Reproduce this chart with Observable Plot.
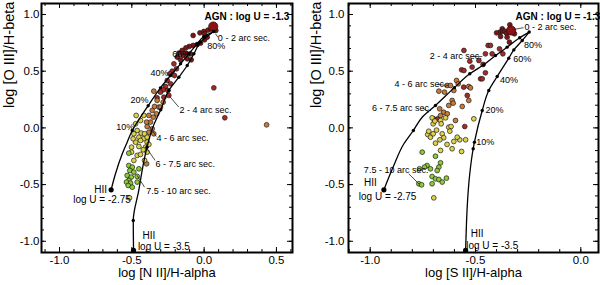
<!DOCTYPE html>
<html><head><meta charset="utf-8">
<script src="https://cdn.jsdelivr.net/npm/d3@7"></script>
<script src="https://cdn.jsdelivr.net/npm/@observablehq/plot@0.6"></script>
<style>
body{margin:0;background:#fff;}
#wrap{display:flex;width:600px;height:285px;overflow:hidden;}
</style></head><body><div id="wrap"></div>
<script>
// ---------- shared ----------
const groupColors = ["#7e1616", "#a42a26", "#c97a38", "#ddd24a", "#8ccc32"];
const coreColor = "#8a1414";
const yTicksMajor = [-1.0, -0.5, 0.0, 0.5, 1.0];
const yTicksMinor = [-1.0,-0.9,-0.8,-0.7,-0.6,-0.5,-0.4,-0.3,-0.2,-0.1,0.0,0.1,0.2,0.3,0.4,0.5,0.6,0.7,0.8,0.9,1.0];
const yTitle = "log [O III]/H-beta";

// ---------- left panel: [N II]/H-alpha ----------
const leftXTicksMajor = [-1.0, -0.5, 0.0, 0.5];
const leftXTicksMinor = [-1.1,-1.0,-0.9,-0.8,-0.7,-0.6,-0.5,-0.4,-0.3,-0.2,-0.1,0.0,0.1,0.2,0.3,0.4,0.5,0.6];
const leftCore = [[0.063, 0.894]];
const left0to2 = [[-0.076,0.815],[-0.029,0.838],[-0.002,0.850],[0.026,0.862],[0.049,0.871],[0.081,0.859],[0.003,0.830],[-0.048,0.735],[-0.076,0.727],[-0.103,0.718],[-0.126,0.706],[-0.025,0.747],[0.003,0.777],[0.021,0.800],[-0.152,0.683],[-0.175,0.659],[-0.145,0.638],[-0.126,0.659],[-0.186,0.624],[-0.163,0.600],[-0.094,0.653],[-0.117,0.609],[-0.089,0.600]];
const left2to4 = [[-0.209,0.565],[-0.191,0.521],[-0.221,0.500],[-0.237,0.477],[-0.205,0.462],[-0.255,0.418],[-0.232,0.389],[-0.267,0.365],[-0.283,0.336],[-0.251,0.330],[-0.302,0.315],[-0.278,0.271],[-0.325,0.265],[-0.244,0.286],[0.067,0.353],[0.143,0.089]];
const left4to6 = [[0.432,0.027],[-0.348,0.324],[-0.325,0.242],[-0.343,0.189],[-0.313,0.183],[-0.359,0.154],[-0.329,0.124],[-0.352,0.095],[-0.382,0.110],[-0.371,0.051],[-0.394,0.012],[-0.359,-0.008],[-0.382,-0.038],[-0.348,-0.052],[-0.398,0.051],[-0.302,0.183],[-0.283,0.227],[-0.398,-0.317]];
const left6to75 = [[-0.470,0.110],[-0.474,0.036],[-0.440,0.065],[-0.417,0.110],[-0.463,-0.023],[-0.486,-0.052],[-0.435,-0.046],[-0.451,-0.082],[-0.417,-0.096],[-0.394,-0.126],[-0.440,-0.111],[-0.474,-0.126],[-0.491,-0.096],[-0.405,-0.170],[-0.421,-0.193],[-0.394,-0.214],[-0.451,-0.164],[-0.382,-0.146],[-0.502,-0.170],[-0.463,-0.243],[-0.412,-0.287],[-0.440,-0.234],[-0.502,-0.214],[-0.486,-0.287],[-0.412,-0.052],[-0.394,-0.082],[-0.516,-0.617]];
const left75to10 = [[-0.521,-0.332],[-0.497,-0.346],[-0.514,-0.376],[-0.486,-0.390],[-0.532,-0.420],[-0.504,-0.434],[-0.521,-0.464],[-0.537,-0.478],[-0.509,-0.487],[-0.525,-0.508],[-0.497,-0.523],[-0.463,-0.428],[-0.451,-0.361],[-0.463,-0.478],[-0.521,-0.223]];
const leftMixHigh = [[-0.643,-0.546],[-0.613,-0.405],[-0.566,-0.229],[-0.532,-0.126],[-0.497,-0.023],[-0.440,0.094],[-0.387,0.195],[-0.302,0.353],[-0.232,0.462],[-0.163,0.565],[-0.106,0.653],[-0.048,0.741],[-0.002,0.806],[0.067,0.850]];
const leftMixLow = [[-0.488,-1.081],[-0.490,-0.817],[-0.452,-0.552],[-0.425,-0.350],[-0.395,-0.170],[-0.350,0.020],[-0.300,0.160],[-0.244,0.330],[-0.175,0.447],[-0.117,0.550],[-0.071,0.653],[-0.025,0.756],[0.067,0.850]];
const leftMixDots = [[-0.497,-0.023],[-0.387,0.195],[-0.302,0.353],[-0.232,0.462],[-0.163,0.565],[-0.106,0.653],[-0.048,0.741],[-0.002,0.806],[-0.490,-0.817],[-0.395,-0.170],[-0.300,0.160],[-0.244,0.330],[-0.175,0.447],[-0.117,0.550],[-0.071,0.653],[-0.025,0.756],[0.067,0.850]];
const leftEnds = [[-0.643,-0.546],[-0.488,-1.081]];
const leftLabels = [
  {x:0.095,y:0.790,t:"0 - 2 arc sec."},{x:-0.170,y:0.159,t:"2 - 4 arc sec."},
  {x:-0.329,y:-0.091,t:"4 - 6 arc sec."},{x:-0.336,y:-0.317,t:"6 - 7.5 arc sec."},
  {x:-0.401,y:-0.555,t:"7.5 - 10 arc sec."}];
const leftPct = [
  {x:0.021,y:0.721,t:"80%"},{x:-0.221,y:0.653,t:"60%"},{x:-0.371,y:0.483,t:"40%"},
  {x:-0.509,y:0.248,t:"20%"},{x:-0.608,y:0.004,t:"10%"}];
const leftHII = [{x:-0.716,y:-0.545,t:"HII"},{x:-0.382,y:-0.949,t:"HII"}];
const leftLogU = [{x:-0.905,y:-0.634,t:"log U = -2.75"},{x:-0.458,y:-1.046,t:"log U = -3.5"}];
const leftAGN = [{x:0.003,y:0.982,t:"AGN : log U = -1.3"}];
const leftLeaders = [
  [0.079,0.829,0.095,0.800],[-0.244,0.286,-0.175,0.183],[-0.382,0.021,-0.331,-0.076],
  [-0.394,-0.185,-0.339,-0.287],[-0.463,-0.420,-0.412,-0.523]];

// ---------- right panel: [S II]/H-alpha ----------
const rightXTicksMajor = [-1.0, -0.5, 0.0];
const rightXTicksMinor = [-1.1,-1.0,-0.9,-0.8,-0.7,-0.6,-0.5,-0.4,-0.3,-0.2,-0.1,0.0];
const rightCore = [[-0.331, 0.859]];
const right0to2 = [[-0.337,0.909],[-0.373,0.874],[-0.384,0.844],[-0.372,0.853],[-0.362,0.853],[-0.353,0.835],[-0.400,0.838],[-0.381,0.806],[-0.339,0.756],[-0.315,0.830],[-0.350,0.800]];
const right2to4 = [[-0.440,0.727],[-0.429,0.727],[-0.453,0.653],[-0.421,0.653],[-0.386,0.697],[-0.370,0.653],[-0.484,0.594],[-0.527,0.588],[-0.555,0.683],[-0.516,0.536],[-0.464,0.559],[-0.453,0.486],[-0.476,0.433],[-0.468,0.433],[-0.566,0.512],[-0.555,0.506],[-0.556,0.359],[-0.539,0.286],[-0.698,0.080],[-0.679,0.080],[-0.551,0.012]];
const right4to6 = [[-0.590,0.418],[-0.635,0.374],[-0.603,0.330],[-0.619,0.374],[-0.582,0.389],[-0.532,0.365],[-0.524,0.353],[-0.674,0.324],[-0.647,0.315],[-0.532,0.242],[-0.611,0.242],[-0.606,0.218],[-0.563,0.189],[-0.627,0.198],[-0.670,0.168],[-0.651,0.138],[-0.666,0.109],[-0.634,0.124],[-0.595,0.065]];
const right6to75 = [[-0.706,0.089],[-0.642,0.089],[-0.666,0.065],[-0.663,0.036],[-0.701,0.036],[-0.627,0.006],[-0.693,0.060],[-0.616,0.012],[-0.622,-0.029],[-0.575,-0.105],[-0.547,-0.105],[-0.587,-0.082],[-0.508,0.080],[-0.727,-0.058],[-0.714,-0.082],[-0.722,-0.030],[-0.701,-0.052],[-0.685,-0.020],[-0.658,-0.052],[-0.651,-0.087],[-0.690,-0.135],[-0.669,-0.105],[-0.666,-0.199],[-0.611,-0.184],[-0.566,-0.208],[-0.635,-0.146],[-0.603,-0.120],[-0.698,-0.617]];
const right75to10 = [[-0.753,-0.214],[-0.666,-0.308],[-0.730,-0.332],[-0.714,-0.361],[-0.742,-0.346],[-0.766,-0.361],[-0.674,-0.346],[-0.682,-0.376],[-0.706,-0.429],[-0.690,-0.449],[-0.674,-0.455],[-0.658,-0.478],[-0.638,-0.443],[-0.706,-0.493],[-0.769,-0.493],[-0.756,-0.502],[-0.690,-0.250]];
const rightMixHigh = [[-0.935,-0.546],[-0.888,-0.332],[-0.840,-0.140],[-0.795,-0.023],[-0.753,0.094],[-0.690,0.198],[-0.600,0.355],[-0.527,0.477],[-0.461,0.556],[-0.405,0.638],[-0.350,0.712],[-0.290,0.795],[-0.245,0.845]];
const rightMixLow = [[-0.547,-1.081],[-0.543,-0.850],[-0.539,-0.684],[-0.527,-0.400],[-0.511,-0.184],[-0.505,-0.126],[-0.468,0.153],[-0.437,0.330],[-0.397,0.453],[-0.342,0.615],[-0.318,0.688],[-0.278,0.771],[-0.245,0.845]];
const rightMixDots = [[-0.795,-0.023],[-0.690,0.198],[-0.600,0.355],[-0.527,0.477],[-0.461,0.556],[-0.405,0.638],[-0.350,0.712],[-0.290,0.795],[-0.511,-0.184],[-0.505,-0.126],[-0.468,0.153],[-0.437,0.330],[-0.397,0.453],[-0.342,0.615],[-0.318,0.688],[-0.278,0.771],[-0.245,0.845]];
const rightEnds = [[-0.935,-0.546],[-0.547,-1.081]];
const rightLabels = [
  {x:-0.267,y:0.888,t:"0 - 2 arc sec."},{x:-0.717,y:0.632,t:"2 - 4 arc sec."},
  {x:-0.885,y:0.383,t:"4 - 6 arc sec."},{x:-0.991,y:0.177,t:"6 - 7.5 arc sec."},
  {x:-1.030,y:-0.376,t:"7.5 - 10 arc sec."}];
const rightPct = [
  {x:-0.270,y:0.732,t:"80%"},{x:-0.321,y:0.603,t:"60%"},{x:-0.384,y:0.418,t:"40%"},
  {x:-0.453,y:0.154,t:"20%"},{x:-0.497,y:-0.126,t:"10%"}];
const rightHII = [{x:-0.999,y:-0.487,t:"HII"},{x:-0.492,y:-0.934,t:"HII"}];
const rightLogU = [{x:-1.054,y:-0.611,t:"log U = -2.75"},{x:-0.544,y:-1.037,t:"log U = -3.5"}];
const rightAGN = [{x:-0.310,y:0.982,t:"AGN : log U = -1.3"}];
const rightLeaders = [
  [-0.322,0.866,-0.272,0.884],[-0.521,0.629,-0.468,0.629],[-0.682,0.383,-0.627,0.374],
  [-0.753,0.177,-0.722,0.139],[-0.817,-0.405,-0.766,-0.499]];

const FONT = '"Liberation Sans", Arial, Helvetica, sans-serif';

function panel(cfg) {
  const W = 300, H = 285;
  const pw = W - cfg.ml - cfg.mr, ph = H - cfg.mt - cfg.mb;
  const pts = [];
  cfg.groups.forEach((arr, g) => arr.forEach(([x, y]) => pts.push({x, y, c: groupColors[g]})));
  const fx = d => d[0], fy = d => d[1];
  return Plot.plot({
    width: W, height: H,
    marginLeft: cfg.ml, marginRight: cfg.mr, marginTop: cfg.mt, marginBottom: cfg.mb,
    x: {domain: cfg.xd}, y: {domain: [-1.099, 1.097]},
    color: {type: "identity"},
    style: {fontFamily: FONT, background: "white", color: "black", overflow: "visible"},
    marks: [
      // inward ticks
      Plot.ruleX(cfg.xMinor, {insetTop: ph - 3, strokeWidth: 1}),
      Plot.ruleX(cfg.xMinor, {insetBottom: ph - 3, strokeWidth: 1}),
      Plot.ruleY(yTicksMinor, {insetRight: pw - 3, strokeWidth: 1}),
      Plot.ruleY(yTicksMinor, {insetLeft: pw - 3, strokeWidth: 1}),
      Plot.ruleX(cfg.xMajor, {insetTop: ph - 5, strokeWidth: 1}),
      Plot.ruleX(cfg.xMajor, {insetBottom: ph - 5, strokeWidth: 1}),
      Plot.ruleY(yTicksMajor, {insetRight: pw - 5, strokeWidth: 1}),
      Plot.ruleY(yTicksMajor, {insetLeft: pw - 5, strokeWidth: 1}),
      Plot.axisX(cfg.xMajor, {tickSize: 0, tickPadding: 3, tickFormat: d => d.toFixed(1), fontSize: 11.5, label: null}),
      Plot.axisY(yTicksMajor, {tickSize: 0, tickPadding: cfg.ypad, tickFormat: d => d.toFixed(1), fontSize: 11.5, label: null}),
      Plot.text([cfg.xTitle], {text: d => d, frameAnchor: "bottom", dy: 24, fontSize: 13}),
      Plot.text([yTitle], {text: d => d, frameAnchor: "left", dx: -32, dy: -20, rotate: -90, fontSize: 14.5}),
      // data points
      Plot.dot(pts, {x: "x", y: "y", r: 2.4, fill: "c", stroke: "#1a1a1a", strokeWidth: 0.7}),
      Plot.dot(cfg.core, {x: fx, y: fy, r: 4.6, fill: coreColor, stroke: "#3a0808", strokeWidth: 0.8}),
      // mixing curves
      Plot.line(cfg.mixHigh, {x: fx, y: fy, curve: "monotone-y", stroke: "black", strokeWidth: 1.3}),
      Plot.line(cfg.mixLow, {x: fx, y: fy, curve: "monotone-y", stroke: "black", strokeWidth: 1.3}),
      Plot.dot(cfg.mixDots, {x: fx, y: fy, r: 1.7, fill: "black"}),
      Plot.dot(cfg.ends, {x: fx, y: fy, r: 2.6, fill: "black"}),
      // annotations
      Plot.link(cfg.leaders, {x1: d => d[0], y1: d => d[1], x2: d => d[2], y2: d => d[3], stroke: "#222", strokeWidth: 0.8}),
      Plot.text(cfg.labels, {x: "x", y: "y", text: "t", textAnchor: "start", fontSize: 9}),
      Plot.text(cfg.pct, {x: "x", y: "y", text: "t", textAnchor: "start", fontSize: 9, fontWeight: 500}),
      Plot.text(cfg.hii, {x: "x", y: "y", text: "t", textAnchor: "middle", fontSize: 10}),
      Plot.text(cfg.logu, {x: "x", y: "y", text: "t", textAnchor: "start", fontSize: 10}),
      Plot.text(cfg.agn, {x: "x", y: "y", text: "t", textAnchor: "start", fontSize: 10, fontWeight: "bold"}),
      Plot.frame({stroke: "black", strokeWidth: 2})
    ]
  });
}

const wrap = document.getElementById("wrap");
wrap.append(panel({
  ml: 41, mr: 8, mt: 3, mb: 33, ypad: 2, xd: [-1.1245, 0.611],
  xMajor: leftXTicksMajor, xMinor: leftXTicksMinor, xTitle: "log [N II]/H-alpha",
  groups: [left0to2, left2to4, left4to6, left6to75, left75to10], core: leftCore,
  mixHigh: leftMixHigh, mixLow: leftMixLow, mixDots: leftMixDots, ends: leftEnds,
  leaders: leftLeaders, labels: leftLabels, pct: leftPct, hii: leftHII, logu: leftLogU, agn: leftAGN
}));
wrap.append(panel({
  ml: 48, mr: 2, mt: 3, mb: 33, ypad: 4, xd: [-1.103, 0.084],
  xMajor: rightXTicksMajor, xMinor: rightXTicksMinor, xTitle: "log [S II]/H-alpha",
  groups: [right0to2, right2to4, right4to6, right6to75, right75to10], core: rightCore,
  mixHigh: rightMixHigh, mixLow: rightMixLow, mixDots: rightMixDots, ends: rightEnds,
  leaders: rightLeaders, labels: rightLabels, pct: rightPct, hii: rightHII, logu: rightLogU, agn: rightAGN
}));
</script></body></html>
